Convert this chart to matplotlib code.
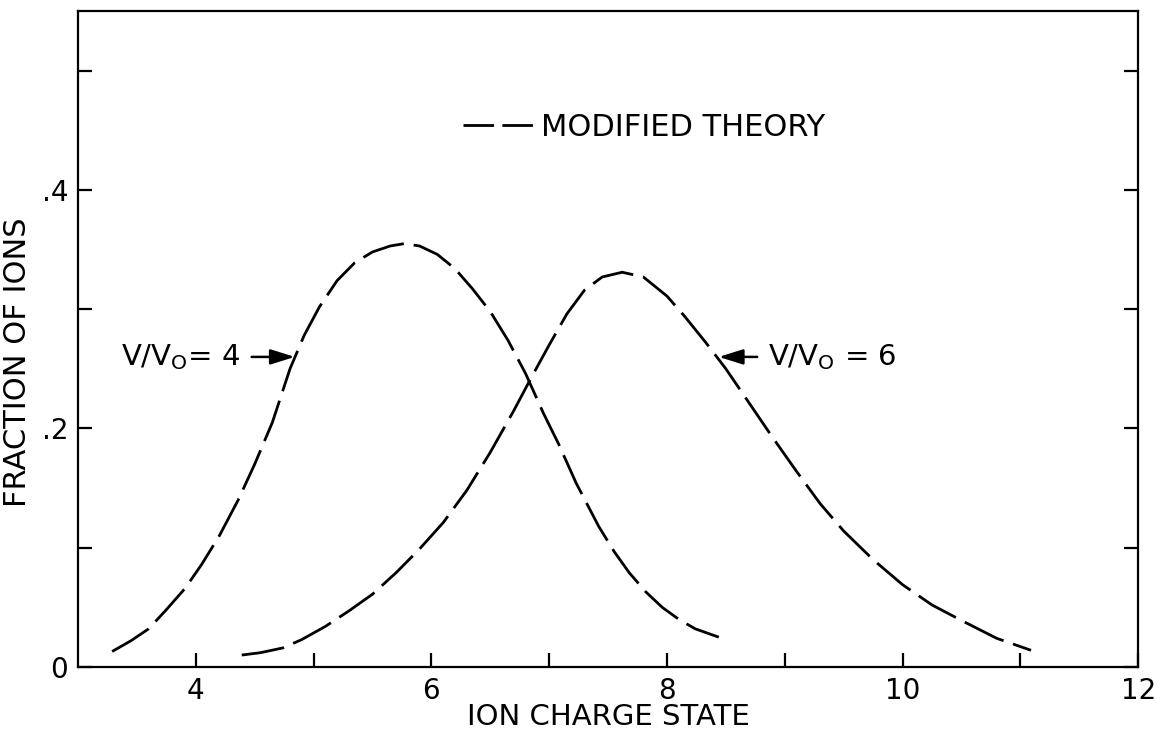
# ==========================================
# ION CHARGE STATE DISTRIBUTION - MODIFIED THEORY
# ==========================================

import matplotlib
matplotlib.use("Agg")
import matplotlib.pyplot as plt
from matplotlib.lines import Line2D

# ==========================================
# DATA
# ==========================================

# V/V0 = 4
x_v4 = [3.29, 3.45, 3.60, 3.75, 3.91, 4.05, 4.20, 4.36, 4.50, 4.65, 4.80, 4.92,
        5.05, 5.20, 5.35, 5.50, 5.65, 5.77, 5.90, 6.05, 6.20, 6.35, 6.50, 6.65,
        6.80, 6.95, 7.08, 7.23, 7.42, 7.55, 7.68, 7.82, 7.96, 8.10, 8.24, 8.44]
y_v4 = [0.013, 0.022, 0.032, 0.048, 0.066, 0.086, 0.110, 0.140, 0.170, 0.205,
        0.250, 0.278, 0.302, 0.324, 0.339, 0.348, 0.353, 0.355, 0.353, 0.346,
        0.334, 0.317, 0.298, 0.274, 0.246, 0.213, 0.187, 0.154, 0.118, 0.097,
        0.079, 0.063, 0.050, 0.040, 0.032, 0.025]

# V/V0 = 6
x_v6 = [4.39, 4.55, 4.74, 4.90, 5.10, 5.30, 5.50, 5.70, 5.90, 6.10, 6.30, 6.50,
        6.70, 6.85, 7.00, 7.15, 7.30, 7.45, 7.62, 7.80, 8.00, 8.15, 8.33, 8.50,
        8.70, 8.90, 9.10, 9.30, 9.50, 9.75, 10.00, 10.25, 10.50, 10.80, 11.09]
y_v6 = [0.010, 0.012, 0.016, 0.023, 0.034, 0.047, 0.061, 0.079, 0.099, 0.121,
        0.148, 0.180, 0.215, 0.243, 0.270, 0.296, 0.316, 0.327, 0.331, 0.327,
        0.311, 0.294, 0.272, 0.250, 0.221, 0.192, 0.164, 0.137, 0.114, 0.090,
        0.069, 0.052, 0.039, 0.024, 0.014]

x_ticks = [4, 5, 6, 7, 8, 9, 10, 11, 12]
x_labels = ["4", "", "6", "", "8", "", "10", "", "12"]
y_ticks = [0, 0.1, 0.2, 0.3, 0.4, 0.5]
y_labels = ["0", "", ".2", "", ".4", ""]

# ==========================================
# FIGURE
# ==========================================

plt.rcParams["font.family"] = ["DejaVu Sans"]

fig = plt.figure(figsize=(11.6, 7.37), dpi=100)
ax = fig.add_axes([0.0672, 0.095, 0.914, 0.89])

dash = (0, (15.5, 3.6))
ax.plot(x_v4, y_v4, color="black", lw=2, linestyle=dash)
ax.plot(x_v6, y_v6, color="black", lw=2, linestyle=dash)

ax.set_xlim(3, 12)
ax.set_ylim(0, 0.55)

for side in ax.spines.values():
    side.set_linewidth(1.6)

ax.set_xticks(x_ticks)
ax.set_xticklabels(x_labels)
ax.set_yticks(y_ticks)
ax.set_yticklabels(y_labels)
ax.tick_params(axis="x", direction="in", length=10, width=1.6, pad=7,
               labelsize=20)
ax.tick_params(axis="y", direction="in", length=10, width=1.6, pad=7,
               labelsize=20, right=True)

ax.set_xlabel("ION CHARGE STATE", fontsize=21, labelpad=-1)
ax.set_ylabel("FRACTION OF IONS", fontsize=22)
ax.yaxis.set_label_coords(-0.043, 0.465)

# ==========================================
# ANNOTATIONS
# ==========================================

arrow = dict(arrowstyle="-|>,head_length=0.7,head_width=0.22", color="black",
             lw=1.8, shrinkA=6, shrinkB=0)

ax.annotate(r"V/V$_\mathregular{O}$= 4", xy=(4.84, 0.26), xytext=(4.38, 0.26),
            ha="right", va="center", fontsize=21, arrowprops=arrow)
ax.annotate(r"V/V$_\mathregular{O}$ = 6", xy=(8.44, 0.26), xytext=(8.86, 0.26),
            ha="left", va="center", fontsize=21, arrowprops=arrow)

handle = Line2D([], [], color="black", lw=2, linestyle=(0, (11, 3)))
ax.legend([handle], ["MODIFIED THEORY"], loc="center left",
          bbox_to_anchor=(0.363, 0.823), frameon=False, fontsize=22,
          handlelength=2.3, handletextpad=0.25, borderpad=0, borderaxespad=0)

plt.savefig("out.png", dpi=100)
